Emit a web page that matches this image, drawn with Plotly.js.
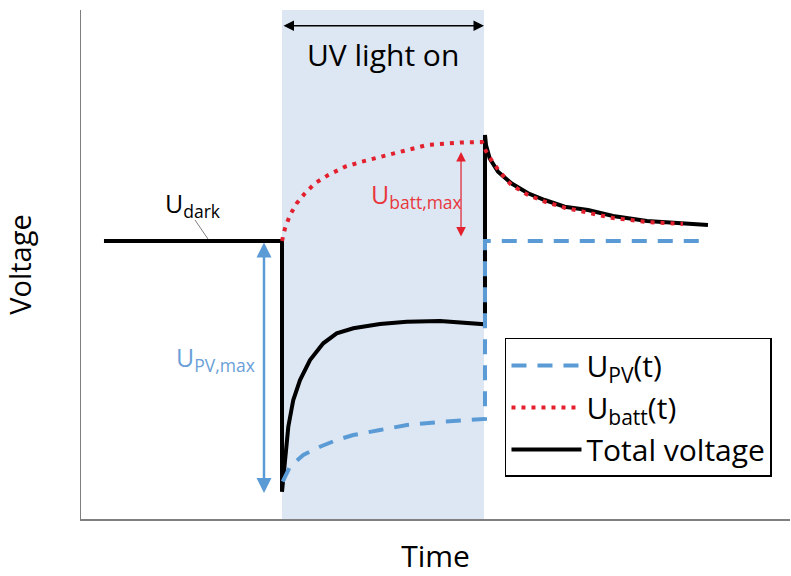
<!DOCTYPE html>
<html>
<head>
<meta charset="utf-8">
<script src="https://cdn.plot.ly/plotly-3.0.1.min.js"></script>
<style>html,body{margin:0;padding:0;background:#fff;}#chart{width:791px;height:576px;}</style>
</head>
<body>
<div id="chart"></div>
<script>
// Schematic time / voltage values (arbitrary units)
const totalTime = [3.24, 28.35, 28.35, 28.77, 29.24, 29.94, 30.89, 32.30, 34.17, 36.06, 38.41, 42.17, 45.94, 50.63, 56.74, 56.98, 56.98, 57.12, 57.64, 58.82, 60.69, 63.05, 65.40, 68.22, 71.51, 75.04, 79.83, 84.49, 88.43];
const totalVolt = [54.62, 54.62, 5.36, 11.59, 18.13, 23.38, 27.31, 31.24, 34.52, 36.48, 37.47, 38.31, 38.76, 38.90, 38.25, 38.25, 75.44, 73.48, 70.86, 68.23, 65.95, 63.99, 62.67, 61.36, 60.71, 59.53, 58.55, 58.15, 57.76];

const battTime = [28.35, 28.77, 29.48, 30.42, 31.59, 33.00, 34.88, 37.24, 39.59, 42.41, 44.99, 48.80, 53.46, 56.56, 57.16, 57.87, 59.05, 60.69, 63.05, 65.40, 68.22, 71.04, 75.04, 79.83, 84.91];
const battVolt = [54.62, 57.11, 59.72, 62.02, 63.99, 65.95, 67.58, 69.21, 70.20, 71.18, 72.10, 73.48, 73.97, 74.07, 72.16, 70.53, 68.23, 65.62, 63.65, 62.34, 61.16, 60.26, 59.14, 58.35, 57.96];

const pvTime = [28.45, 29.48, 31.35, 33.71, 36.06, 38.41, 42.17, 45.98, 50.63, 56.98, 56.98, 87.31];
const pvVolt = [7.33, 10.28, 12.57, 14.20, 15.52, 16.50, 17.49, 18.47, 19.06, 19.65, 54.62, 54.62];

const seriesNames = ['Total voltage', 'U<sub>batt</sub>(t)', 'U<sub>PV</sub>(t)'];

// Light-on window and key levels
const lightOn = 28.35, lightOff = 56.84;
const darkLevel = 54.62, pvMin = 5.11, battTop = 72.10, battBottom = 55.2;

const FONT = 'Open Sans, Lato, sans-serif';
const BLUE = '#5b9bd5', RED = '#e3202d';

const traces = [
  {x: totalTime, y: totalVolt, name: seriesNames[0], mode: 'lines', line: {color: '#000', width: 4}},
  {x: battTime, y: battVolt, name: seriesNames[1], mode: 'lines', line: {color: RED, width: 4, dash: '4px,6px'}},
  {x: pvTime, y: pvVolt, name: seriesNames[2], mode: 'lines', line: {color: BLUE, width: 4, dash: '15px,11px'}}
];

const layout = {
  width: 791, height: 576,
  margin: {l: 81, r: 1, t: 10, b: 57},
  paper_bgcolor: '#fff', plot_bgcolor: '#fff',
  font: {family: FONT, color: '#000'},
  showlegend: true,
  legend: {
    x: 0.598, y: 0.3556, xanchor: 'left', yanchor: 'top',
    traceorder: 'reversed',
    bordercolor: '#000', borderwidth: 1.5, bgcolor: '#fff',
    font: {family: FONT, size: 30, color: '#000'},
    itemwidth: 70
  },
  xaxis: {
    range: [0, 100], showgrid: false, zeroline: false, showticklabels: false, ticks: '',
    showline: true, linecolor: '#7f7f7f', linewidth: 2, fixedrange: true,
    title: {text: 'Time', font: {size: 30, family: FONT}, standoff: 26}
  },
  yaxis: {
    range: [0, 100], showgrid: false, zeroline: false, showticklabels: false, ticks: '',
    showline: true, linecolor: '#7f7f7f', linewidth: 1.5, fixedrange: true,
    title: {text: 'Voltage', font: {size: 29, family: FONT}, standoff: 44}
  },
  shapes: [
    {type: 'rect', xref: 'x', yref: 'paper', x0: lightOn, x1: lightOff, y0: 0, y1: 1,
     fillcolor: '#dde7f3', line: {width: 0}, layer: 'below'},
    {type: 'line', xref: 'x', yref: 'y', x0: 16.08, y0: 58.74, x1: 17.91, y1: 55.01,
     line: {color: '#7f7f7f', width: 1}}
  ],
  annotations: [
    {x: lightOff, y: 96.9, ax: lightOn, ay: 96.9, xref: 'x', yref: 'y', axref: 'x', ayref: 'y',
     text: '', showarrow: true, arrowside: 'end+start', arrowhead: 2, arrowsize: 1.4, arrowwidth: 1.5, arrowcolor: '#000'},
    {x: 42.6, y: 91.2, xref: 'x', yref: 'y', text: 'UV light on', showarrow: false,
     font: {size: 30, family: FONT, color: '#000'}},
    {x: 25.81, y: pvMin, ax: 25.81, ay: darkLevel, xref: 'x', yref: 'y', axref: 'x', ayref: 'y',
     text: '', showarrow: true, arrowside: 'end+start', arrowhead: 2, arrowsize: 1.2, arrowwidth: 2.5, arrowcolor: BLUE},
    {x: 53.6, y: battTop, ax: 53.6, ay: battBottom, xref: 'x', yref: 'y', axref: 'x', ayref: 'y',
     text: '', showarrow: true, arrowside: 'end+start', arrowhead: 2, arrowsize: 1.6, arrowwidth: 1.2, arrowcolor: RED},
    {x: 15.8, y: 61.7, xref: 'x', yref: 'y', text: 'U<sub>dark</sub>', showarrow: false,
     font: {size: 25, family: FONT, color: '#000'}},
    {x: 18.9, y: 31.6, xref: 'x', yref: 'y', text: 'U<sub>PV,max</sub>', showarrow: false,
     font: {size: 25, family: FONT, color: '#6a9fd8'}},
    {x: 47.25, y: 63.65, xref: 'x', yref: 'y', text: 'U<sub>batt,max</sub>', showarrow: false,
     font: {size: 25, family: FONT, color: '#e8383d'}}
  ]
};

Plotly.newPlot('chart', traces, layout, {staticPlot: true, displayModeBar: false});
</script>
</body>
</html>
